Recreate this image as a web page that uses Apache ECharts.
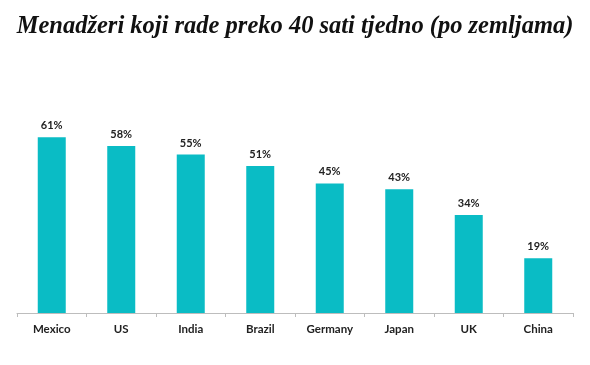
<!DOCTYPE html>
<html><head><meta charset="utf-8">
<script src="https://cdn.jsdelivr.net/npm/echarts@6/dist/echarts.min.js"></script>
<style>html,body{margin:0;padding:0;background:#fff}#c{width:590px;height:365px}</style>
</head><body><div id="c"></div>
<script>
const titleText = 'Menadžeri koji rade preko 40 sati tjedno (po zemljama)';
const categories = ['Mexico', 'US', 'India', 'Brazil', 'Germany', 'Japan', 'UK', 'China'];
const values = [61, 58, 55, 51, 45, 43, 34, 19];

const chart = echarts.init(document.getElementById('c'));
chart.setOption({
  animation: false,
  title: {
    text: titleText, left: 'center', top: 9,
    textStyle: { fontFamily: 'Liberation Serif', fontStyle: 'italic', fontWeight: 'bold', fontSize: 24.5, color: '#111' }
  },
  grid: { left: 17, right: 17, top: 25, bottom: 52, containLabel: false },
  xAxis: {
    type: 'category', data: categories,
    axisLine: { lineStyle: { color: '#bdbdbd', width: 1 } },
    axisTick: { show: true, length: 4, lineStyle: { color: '#bdbdbd' } },
    axisLabel: { margin: 10, fontFamily: 'Lato', fontWeight: 'bold', fontSize: 11.5, color: '#222' }
  },
  yAxis: { type: 'value', min: 0, max: 100, show: false, splitLine: { show: false } },
  series: [{
    type: 'bar', data: values, barWidth: 28,
    itemStyle: { color: '#0ABCC5' },
    label: { show: true, position: 'top', distance: 6, formatter: '{c}%', fontFamily: 'Lato', fontWeight: 'bold', fontSize: 11, color: '#222' }
  }]
});
</script></body></html>
